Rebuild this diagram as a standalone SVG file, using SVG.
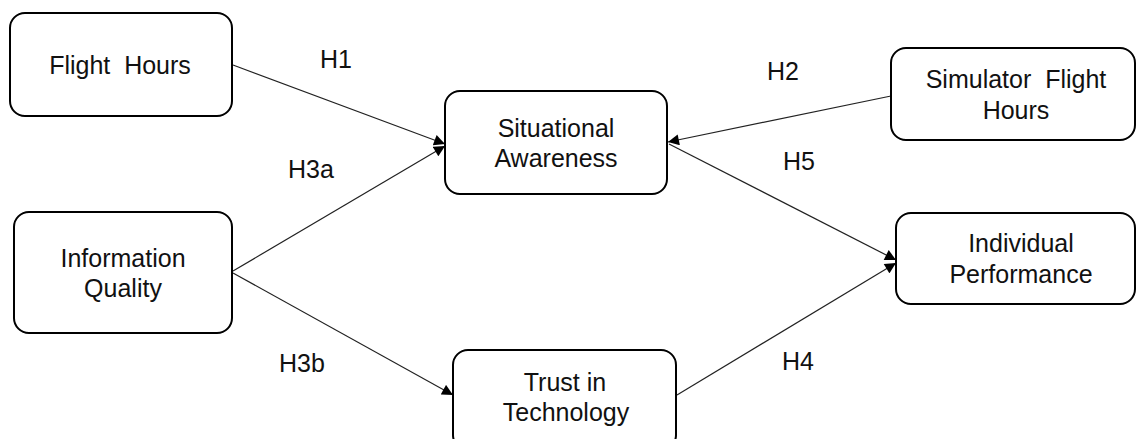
<svg xmlns="http://www.w3.org/2000/svg" width="1136" height="439" viewBox="0 0 1136 439">
<style>
.box{fill:#fff;stroke:#000;stroke-width:2}
.t{font-family:"Liberation Sans",Arial,sans-serif;font-size:25px;fill:#111;text-anchor:middle}
.c{stroke:#222;stroke-width:1.2;fill:none;marker-end:url(#ah)}
</style>
<defs>
<marker id="ah" viewBox="0 0 10 10" refX="10" refY="5" markerWidth="12" markerHeight="11" markerUnits="userSpaceOnUse" orient="auto">
<path d="M0,0 L10,5 L0,10 Z" fill="#000"/>
</marker>
</defs>
<rect width="1136" height="439" fill="#fff"/>
<g id="connectors">
<line class="c" x1="233" y1="65" x2="445" y2="144"/>
<line class="c" x1="233" y1="271" x2="445" y2="146"/>
<line class="c" x1="891" y1="96" x2="668" y2="142"/>
<line class="c" x1="669" y1="144" x2="896" y2="260"/>
<line class="c" x1="233" y1="273" x2="453" y2="395"/>
<line class="c" x1="677" y1="395" x2="896" y2="263"/>
<text class="t" x="336" y="68">H1</text>
<text class="t" x="311" y="178">H3a</text>
<text class="t" x="783" y="80">H2</text>
<text class="t" x="799" y="170">H5</text>
<text class="t" x="302" y="372">H3b</text>
<text class="t" x="798" y="370">H4</text>
</g>
<g id="flight-hours">
<rect class="box" x="10" y="13" width="222" height="103" rx="15"/>
<text class="t" x="120" y="74" xml:space="preserve">Flight  Hours</text>
</g>
<g id="situational-awareness">
<rect class="box" x="445" y="91" width="222" height="103" rx="15"/>
<text class="t" x="556" y="137">Situational</text>
<text class="t" x="556" y="167">Awareness</text>
</g>
<g id="simulator-flight-hours">
<rect class="box" x="891" y="48" width="244" height="92" rx="15"/>
<text class="t" x="1016" y="88" xml:space="preserve">Simulator  Flight</text>
<text class="t" x="1016" y="119">Hours</text>
</g>
<g id="information-quality">
<rect class="box" x="14" y="212" width="218" height="121" rx="15"/>
<text class="t" x="123" y="267">Information</text>
<text class="t" x="123" y="297">Quality</text>
</g>
<g id="individual-performance">
<rect class="box" x="896" y="213" width="239" height="91" rx="15"/>
<text class="t" x="1021" y="252">Individual</text>
<text class="t" x="1021" y="283">Performance</text>
</g>
<g id="trust-in-technology">
<rect class="box" x="453" y="350" width="223" height="100" rx="15"/>
<text class="t" x="565" y="391">Trust in</text>
<text class="t" x="566" y="421">Technology</text>
</g>
</svg>
